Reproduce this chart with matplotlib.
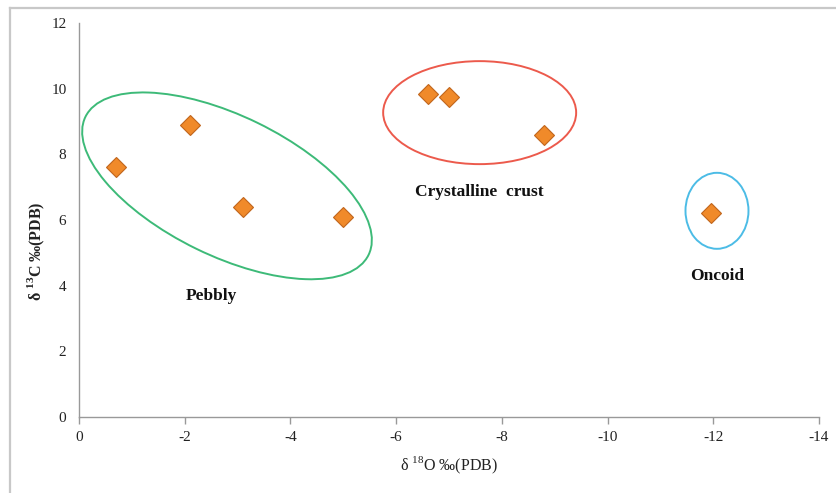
# stable isotope cross plot (d13C vs d18O) with grouped facies

import numpy as np
import matplotlib.pyplot as plt
from matplotlib.patches import Ellipse
from matplotlib.transforms import ScaledTranslation
from matplotlib.lines import Line2D

plt.rcParams['font.family'] = ['Liberation Serif', 'DejaVu Serif']
plt.rcParams['mathtext.fontset'] = 'custom'
plt.rcParams['mathtext.rm'] = 'Liberation Serif'
plt.rcParams['mathtext.bf'] = 'Liberation Serif:bold'

# sample values
d18O = [-0.7, -2.1, -3.1, -5.0, -6.6, -7.0, -8.8, -11.95]
d13C = [7.6, 8.9, 6.4, 6.1, 9.85, 9.75, 8.6, 6.2]

# facies groups: label, label position, ellipse centre, ellipse size (in), angle, colour
group_names = ['Pebbly', 'Crystalline  crust', 'Oncoid']
label_x = [-2.5, -7.58, -12.08]
label_y = [3.7, 6.85, 4.3]
ell_cx = [-2.8, -7.58, -12.07]
ell_cy = [7.04, 9.27, 6.28]
ell_w = [3.15, 1.93, 0.63]
ell_h = [1.4, 1.03, 0.76]
ell_angle = [-26, 0, 0]
ell_color = ['#3dba78', '#ec5a4c', '#4cbce6']

xticks = np.arange(0, -15, -2)
yticks = np.arange(0, 13, 2)

fig = plt.figure(figsize=(8.37, 4.93), dpi=100)
ax = fig.add_axes([79/837, 1-417/493, 740/837, 394/493])

ax.set_xlim(0, -14)
ax.set_ylim(0, 12)

ax.plot(d18O, d13C, linestyle='none', marker='D', markersize=10.5,
        markerfacecolor='#f08a2a', markeredgecolor='#c0651c', markeredgewidth=0.8, zorder=3)

for i in range(len(group_names)):
    tr = fig.dpi_scale_trans + ScaledTranslation(ell_cx[i], ell_cy[i], ax.transData)
    e = Ellipse((0, 0), ell_w[i], ell_h[i], angle=ell_angle[i], transform=tr,
                fill=False, edgecolor=ell_color[i], linewidth=1.4, zorder=2)
    ax.add_patch(e)
    ax.text(label_x[i], label_y[i], group_names[i], ha='center', va='center',
            fontsize=12.5, fontweight='bold', color='#111111')

ax.set_xticks(xticks)
ax.set_xticklabels([str(t) for t in xticks])
ax.set_yticks(yticks)
ax.tick_params(axis='x', direction='out', length=5, width=1, color='#999999',
               labelsize=11, labelcolor='#222222', pad=5)
ax.tick_params(axis='y', length=0, labelsize=11, labelcolor='#222222', pad=9)

for s in ['top', 'right']:
    ax.spines[s].set_visible(False)
for s in ['left', 'bottom']:
    ax.spines[s].set_color('#999999')
    ax.spines[s].set_linewidth(1)

ax.set_xlabel('δ $^{18}$O ‰(PDB)', fontsize=11.5, color='#222222', labelpad=8)
ax.set_ylabel('δ $^{\\mathbf{13}}$C ‰(PDB)', fontsize=11.5, fontweight='bold', color='#222222')
ax.yaxis.set_label_coords(-0.043, 0.42)

# outer frame of the chart area
fig.add_artist(Line2D([10/837, 1], [1-8/493, 1-8/493], color='#c8c8c8', linewidth=1.6))
fig.add_artist(Line2D([10/837, 10/837], [0, 1-8/493], color='#c8c8c8', linewidth=1.6))

fig.savefig('out.png', dpi=100)
